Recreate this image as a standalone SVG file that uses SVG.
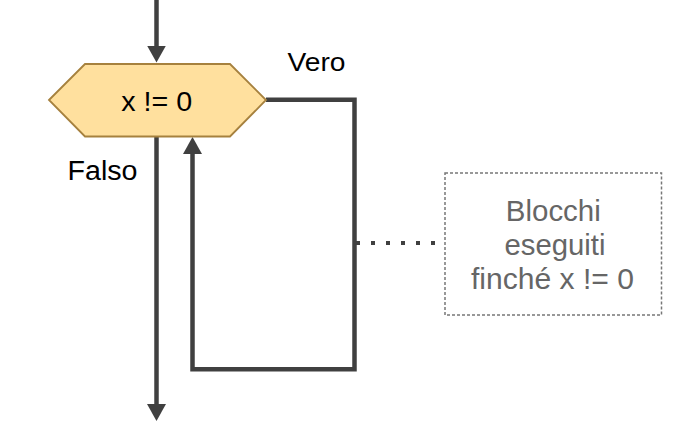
<svg xmlns="http://www.w3.org/2000/svg" width="687" height="422" viewBox="0 0 687 422">
<style>
.conn{fill:none;stroke:#404040;stroke-width:4.5;stroke-linejoin:miter}
.lbl{font-family:"Liberation Sans",Arial,sans-serif;fill:#000}
.note{font-family:"Liberation Sans",Arial,sans-serif;fill:#666;font-size:30px;text-anchor:middle}
</style>
<defs>
<marker id="arr" markerUnits="userSpaceOnUse" markerWidth="17" markerHeight="19" viewBox="0 0 17 19" refX="3" refY="9.5" orient="auto">
<path d="M0,0 L17,9.5 L0,19 Z" fill="#404040"/>
</marker>
</defs>
<rect width="687" height="422" fill="#fff"/>
<g id="connectors">
<path class="conn" d="M156.5,0 V48.5" marker-end="url(#arr)"/>
<path class="conn" d="M156.5,137 V407" marker-end="url(#arr)"/>
<path class="conn" d="M266,99.7 H354.5 V369.2 H192.5 V151" marker-end="url(#arr)"/>
<path d="M356,243 H436" fill="none" stroke="#404040" stroke-width="4" stroke-dasharray="4 11"/>
</g>
<g id="decision">
<polygon points="49,100 85,64 230,64 266,100 230,136.5 85,136.5" fill="#FFE09E" stroke="#A6813E" stroke-width="1.8"/>
<text class="lbl" x="156.7" y="111" font-size="27" text-anchor="middle" textLength="71" lengthAdjust="spacingAndGlyphs">x != 0</text>
</g>
<g id="label-vero">
<text class="lbl" x="287.5" y="70.5" font-size="26.5" textLength="58" lengthAdjust="spacingAndGlyphs">Vero</text>
</g>
<g id="label-falso">
<text class="lbl" x="67.5" y="179.5" font-size="27" textLength="70" lengthAdjust="spacingAndGlyphs">Falso</text>
</g>
<g id="note">
<rect x="445" y="173" width="216.5" height="142" fill="none" stroke="#777" stroke-width="1.5" stroke-dasharray="3 2"/>
<text class="note" x="553.3" y="221" textLength="95" lengthAdjust="spacingAndGlyphs">Blocchi</text>
<text class="note" x="555" y="255" textLength="101" lengthAdjust="spacingAndGlyphs">eseguiti</text>
<text class="note" x="552.5" y="288.5" textLength="163" lengthAdjust="spacingAndGlyphs">finché x != 0</text>
</g>
</svg>
